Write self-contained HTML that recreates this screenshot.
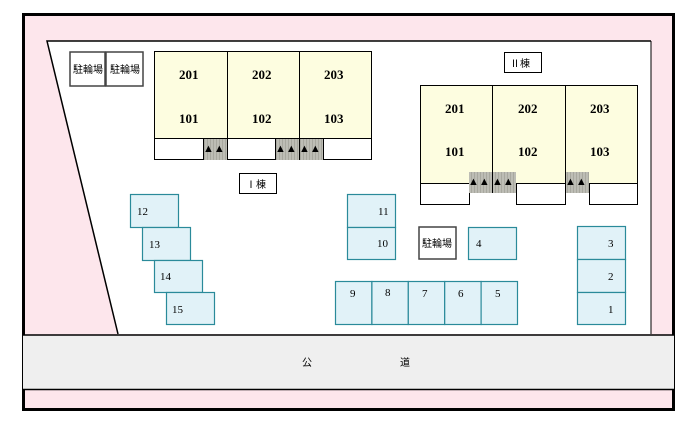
<!DOCTYPE html>
<html><head><meta charset="utf-8"><style>
html,body{margin:0;padding:0;background:#fff;width:700px;height:422px;overflow:hidden}
svg text{font-family:"Liberation Serif","Noto Serif CJK SC",serif;fill:#000}
.j{font-family:"Liberation Sans","Noto Sans CJK JP",sans-serif;font-size:10px}
.n{font-size:13px;font-weight:bold}
.p{font-size:11px}
</style></head><body>
<svg width="700" height="422" xmlns="http://www.w3.org/2000/svg">
<defs>
<pattern id="h" width="3" height="4" patternUnits="userSpaceOnUse"><rect width="3" height="4" fill="#bdbdb5"/><rect width="1" height="4" fill="#a8a89f"/></pattern>
</defs>
<rect x="23.5" y="14.5" width="650" height="395" fill="#fde6ec" stroke="#000" stroke-width="3"/>
<polygon points="47,41 651,41 651,334 118,334" fill="#fff"/>
<polyline points="651,41 47,41 118,334" fill="none" stroke="#000" stroke-width="1.5"/>
<line x1="651" y1="41" x2="651" y2="334" stroke="#000" stroke-width="1"/>
<rect x="23" y="335" width="651" height="54" fill="#efefef"/>
<line x1="23" y1="335" x2="674" y2="335" stroke="#000" stroke-width="1.5"/>
<line x1="23" y1="389.5" x2="674" y2="389.5" stroke="#000" stroke-width="1.5"/>
<text x="302" y="366" class="j">公</text><text x="400" y="366" class="j">道</text>

<!-- bike -->
<g fill="#fff" stroke="#444" stroke-width="1.5">
<rect x="70" y="52" width="35" height="34"/><rect x="106" y="52" width="37" height="34"/>
<rect x="419" y="227" width="37" height="32"/></g>
<text x="73" y="73" class="j">駐輪場</text><text x="110" y="73" class="j">駐輪場</text>
<text x="422" y="247" class="j">駐輪場</text>

<!-- Building I -->
<g stroke="#000" stroke-width="1">
<rect x="154.5" y="51.5" width="217" height="87" fill="#fdfde0"/>
<line x1="227.5" y1="51" x2="227.5" y2="160"/><line x1="299.5" y1="51" x2="299.5" y2="160"/>
<rect x="154.5" y="138.5" width="49" height="21" fill="#fff"/>
<rect x="227.5" y="138.5" width="48" height="21" fill="#fff"/>
<rect x="323.5" y="138.5" width="48" height="21" fill="#fff"/>
</g>
<rect x="204" y="139" width="23" height="21" fill="url(#h)"/>
<rect x="276" y="139" width="23" height="21" fill="url(#h)"/>
<rect x="300" y="139" width="23" height="21" fill="url(#h)"/>
<g font-size="11" font-family="DejaVu Sans">
<text x="203" y="152">▲▲</text><text x="275" y="152">▲▲</text><text x="299" y="152">▲▲</text></g>
<text x="179" y="79" class="n">201</text><text x="252" y="79" class="n">202</text><text x="324" y="79" class="n">203</text>
<text x="179" y="123" class="n">101</text><text x="252" y="123" class="n">102</text><text x="324" y="123" class="n">103</text>
<rect x="239.5" y="173.5" width="37" height="20" fill="#fff" stroke="#000"/>
<text x="246" y="188" class="j" font-size="12">Ⅰ棟</text>

<!-- Building II -->
<g stroke="#000" stroke-width="1">
<rect x="420.5" y="85.5" width="217" height="98" fill="#fdfde0"/>
<line x1="492.5" y1="85" x2="492.5" y2="193"/><line x1="565.5" y1="85" x2="565.5" y2="183"/>
<rect x="420.5" y="183.5" width="49" height="21" fill="#fff"/>
<rect x="516.5" y="183.5" width="49" height="21" fill="#fff"/>
<rect x="589.5" y="183.5" width="48" height="21" fill="#fff"/>
</g>
<rect x="469" y="172" width="23" height="21" fill="url(#h)"/>
<rect x="493" y="172" width="23" height="21" fill="url(#h)"/>
<rect x="566" y="172" width="23" height="21" fill="url(#h)"/>
<g font-size="11" font-family="DejaVu Sans">
<text x="468" y="185">▲▲</text><text x="492" y="185">▲▲</text><text x="565" y="185">▲▲</text></g>
<text x="445" y="113" class="n">201</text><text x="518" y="113" class="n">202</text><text x="590" y="113" class="n">203</text>
<text x="445" y="156" class="n">101</text><text x="518" y="156" class="n">102</text><text x="590" y="156" class="n">103</text>
<rect x="504.5" y="52.5" width="37" height="20" fill="#fff" stroke="#000"/>
<text x="510" y="67" class="j" font-size="12">Ⅱ棟</text>

<!-- Parking -->
<g fill="#e1f2f8" stroke="#2a8a9a" stroke-width="1.2">
<rect x="130.5" y="194.5" width="48" height="33"/>
<rect x="142.5" y="227.5" width="48" height="33"/>
<rect x="154.5" y="260.5" width="48" height="32"/>
<rect x="166.5" y="292.5" width="48" height="32"/>
<rect x="347.5" y="194.5" width="48" height="33"/>
<rect x="347.5" y="227.5" width="48" height="32"/>
<rect x="468.5" y="227.5" width="48" height="32"/>
<rect x="335.5" y="281.5" width="36.4" height="43"/>
<rect x="371.9" y="281.5" width="36.4" height="43"/>
<rect x="408.3" y="281.5" width="36.4" height="43"/>
<rect x="444.7" y="281.5" width="36.4" height="43"/>
<rect x="481.1" y="281.5" width="36.4" height="43"/>
<rect x="577.5" y="226.5" width="48" height="33"/>
<rect x="577.5" y="259.5" width="48" height="33"/>
<rect x="577.5" y="292.5" width="48" height="32"/>
</g>
<g class="p">
<text x="137" y="215" class="p">12</text><text x="149" y="248" class="p">13</text>
<text x="160" y="280" class="p">14</text><text x="172" y="313" class="p">15</text>
<text x="378" y="215" class="p">11</text><text x="377" y="247" class="p">10</text>
<text x="476" y="247" class="p">4</text>
<text x="350" y="297" class="p">9</text><text x="385" y="296" class="p">8</text><text x="422" y="297" class="p">7</text>
<text x="458" y="297" class="p">6</text><text x="495" y="297" class="p">5</text>
<text x="608" y="247" class="p">3</text><text x="608" y="280" class="p">2</text><text x="608" y="313" class="p">1</text>
</g>
</svg>
</body></html>
